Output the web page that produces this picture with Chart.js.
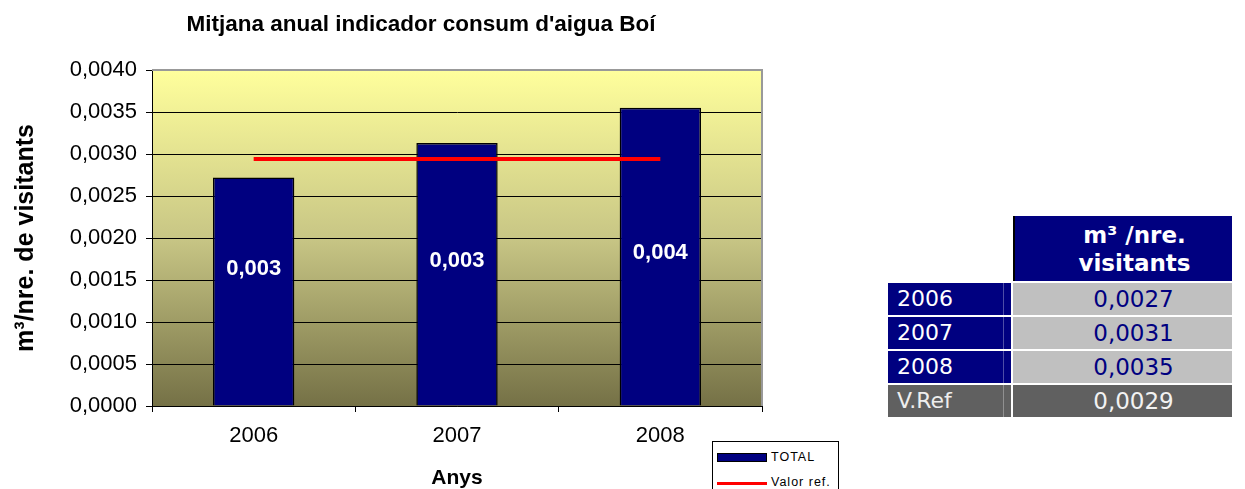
<!DOCTYPE html>
<html>
<head>
<meta charset="utf-8">
<script src="https://cdn.jsdelivr.net/npm/chart.js@4"></script>
<style>
    body { margin: 0; background: #fff; width: 1245px; height: 489px; overflow: hidden; position: relative; }
    #chart-wrap { position: absolute; left: 0; top: 0; width: 842px; height: 489px; }
    #legend {
        position: absolute; left: 712px; top: 441px; width: 127px; height: 60px;
        border: 1px solid #000; background: #fff; box-sizing: border-box;
        font-family: "Liberation Sans", Arial, sans-serif; font-size: 12.5px; color: #000;
    }
    .leg-item { position: absolute; left: 4px; display: flex; align-items: center; }
    .leg-item span { margin-left: 4px; letter-spacing: 1px; }
    #data-table {
        position: absolute; left: 886px; top: 214px;
        border-collapse: separate; border-spacing: 2px;
        font-family: "DejaVu Sans", sans-serif; font-size: 23px;
    }
    #data-table td { padding: 0; height: 32px; line-height: 30px; }
    #data-table .lbl {
        width: 114px; background-color: #000080; color: #fff; padding-left: 9px;
        font-size: 22px;
        background-image: linear-gradient(to right, transparent 115px, rgba(255,255,255,0.3) 115px,
                                          rgba(255,255,255,0.3) 116px, transparent 116px);
    }
    #data-table .val {
        width: 197px; padding-left: 22px; background: #C0C0C0; color: #000080; text-align: center;
    }
    #data-table .head {
        background: #000080; color: #fff; font-weight: bold; text-align: center;
        height: 65px; line-height: 28px; border-left: 2px solid #000;
    }
    #data-table tr.ref .lbl { background-color: #606060; color: #eee; }
    #data-table tr.ref .val { background: #606060; color: #f2f2f2; }
</style>
</head>
<body>
<div id="chart-wrap"><canvas id="chart"></canvas></div>
<div id="legend"></div>
<table id="data-table"></table>

<script>
/* -------------------- DATA -------------------- */
const years = ["2006", "2007", "2008"];
const totalValues = [0.00272, 0.00313, 0.00355];
const refValues = [0.00294, 0.00294, 0.00294];
const yTicks = [0, 0.0005, 0.001, 0.0015, 0.002, 0.0025, 0.003, 0.0035, 0.004];

const tableHeader = ["m³ /nre.", "visitants"];
const tableLabels = ["2006", "2007", "2008", "V.Ref"];
const tableValues = ["0,0027", "0,0031", "0,0035", "0,0029"];

const NAVY = "#000080";
const RED = "#FF0000";
const ARIAL = "'Liberation Sans', Arial, sans-serif";

const comma = (v, d) => v.toFixed(d).replace(".", ",");

/* -------------------- PLUGINS -------------------- */
// yellow-to-olive plot background
const plotBackground = {
    id: "plotBackground",
    beforeDraw(chart) {
        const { ctx, chartArea: a } = chart;
        const g = ctx.createLinearGradient(0, a.top, 0, a.bottom);
        g.addColorStop(0, "#FFFF9C");
        g.addColorStop(0.5, "#C8C685");
        g.addColorStop(1, "#757146");
        ctx.save();
        ctx.fillStyle = g;
        ctx.fillRect(a.left, a.top, a.right - a.left, a.bottom - a.top);
        ctx.restore();
    },
    afterDraw(chart) {
        const { ctx, chartArea: a } = chart;
        ctx.save();
        ctx.strokeStyle = "#999";
        ctx.lineWidth = 2;
        ctx.beginPath();
        ctx.moveTo(a.left, a.top);
        ctx.lineTo(a.right, a.top);
        ctx.lineTo(a.right, a.bottom);
        ctx.stroke();
        ctx.restore();
    }
};

// white values inside the bars (Excel puts them a bit above the middle)
const barLabels = {
    id: "barLabels",
    afterDatasetsDraw(chart) {
        const { ctx } = chart;
        const meta = chart.getDatasetMeta(1);
        ctx.save();
        ctx.fillStyle = "#fff";
        ctx.font = "bold 22px " + ARIAL;
        ctx.textAlign = "center";
        ctx.textBaseline = "middle";
        meta.data.forEach((bar, i) => {
            const y = 0.23 * bar.y + 0.562 * bar.base;
            ctx.fillText(comma(totalValues[i], 3), bar.x, y);
        });
        ctx.restore();
    }
};

/* -------------------- CHART -------------------- */
const chart = new Chart(document.getElementById("chart"), {
    data: {
        labels: years,
        datasets: [
            {
                type: "line",
                label: "Valor ref.",
                data: refValues,
                borderColor: RED,
                borderWidth: 4,
                pointRadius: 0,
                order: 0
            },
            {
                type: "bar",
                label: "TOTAL",
                data: totalValues,
                backgroundColor: NAVY,
                borderColor: "#000",
                borderWidth: 1.5,
                categoryPercentage: 1,
                barPercentage: 0.4,
                order: 1
            }
        ]
    },
    options: {
        responsive: true,
        maintainAspectRatio: false,
        animation: false,
        layout: { padding: 0 },
        plugins: {
            legend: { display: false },
            tooltip: { enabled: false },
            title: {
                display: true,
                text: "Mitjana anual indicador consum d'aigua Boí",
                color: "#000",
                font: { family: ARIAL, size: 22.5, weight: "bold", lineHeight: 1.2 },
                padding: { top: 11, bottom: 32 }
            }
        },
        scales: {
            x: {
                offset: true,
                grid: { offset: true, drawOnChartArea: false, drawTicks: true, tickLength: 6, color: "#000" },
                border: { display: true, color: "#000", width: 1 },
                ticks: { color: "#000", font: { family: ARIAL, size: 22 }, padding: 11 },
                title: {
                    display: true,
                    text: "Anys",
                    color: "#000",
                    font: { family: ARIAL, size: 21, weight: "bold", lineHeight: 1 },
                    padding: { top: 0, bottom: 0 }
                },
                afterFit(scale) { scale.height = 83; }
            },
            y: {
                min: 0,
                max: 0.004,
                afterBuildTicks(scale) { scale.ticks = yTicks.map(v => ({ value: v })); },
                grid: { color: "#000", lineWidth: 1, drawTicks: true, tickLength: 6 },
                border: { display: true, color: "#000", width: 1 },
                ticks: {
                    color: "#000",
                    font: { family: ARIAL, size: 22 },
                    padding: 9,
                    callback: v => comma(v, 4)
                },
                title: {
                    display: true,
                    text: "m³/nre. de visitants",
                    color: "#000",
                    font: { family: ARIAL, size: 25, weight: "bold", lineHeight: 1.2 },
                    padding: { top: 11, bottom: 0 }
                },
                afterFit(scale) { scale.width = 152; }
            },
            // empty spacer on the right so the title stays centred on the whole canvas
            spacer: {
                type: "linear",
                position: "right",
                display: true,
                grid: { display: false },
                border: { display: false },
                ticks: { display: false },
                afterFit(scale) { scale.width = 80; }
            }
        }
    },
    plugins: [plotBackground, barLabels]
});

/* -------------------- LEGEND -------------------- */
function buildLegend() {
    const box = document.getElementById("legend");
    const bar = chart.data.datasets[1];
    const line = chart.data.datasets[0];
    box.innerHTML = `
        <div class="leg-item" style="top:8px">
            <div style="width:48px;height:7px;background:${bar.backgroundColor};border:1px solid #000"></div>
            <span>${bar.label}</span>
        </div>
        <div class="leg-item" style="top:33px">
            <div style="width:50px;height:3px;background:${line.borderColor};margin-top:2px"></div>
            <span>${line.label}</span>
        </div>`;
}

/* -------------------- TABLE -------------------- */
function buildTable() {
    const table = document.getElementById("data-table");
    let html = `<tr><td></td><td class="head" style="padding-left:22px">${tableHeader.join("<br>")}</td></tr>`;
    tableLabels.forEach((lbl, i) => {
        const cls = lbl === "V.Ref" ? "ref" : "";
        html += `<tr class="${cls}"><td class="lbl">${lbl}</td><td class="val">${tableValues[i]}</td></tr>`;
    });
    table.innerHTML = html;
}

buildLegend();
buildTable();
</script>
</body>
</html>
